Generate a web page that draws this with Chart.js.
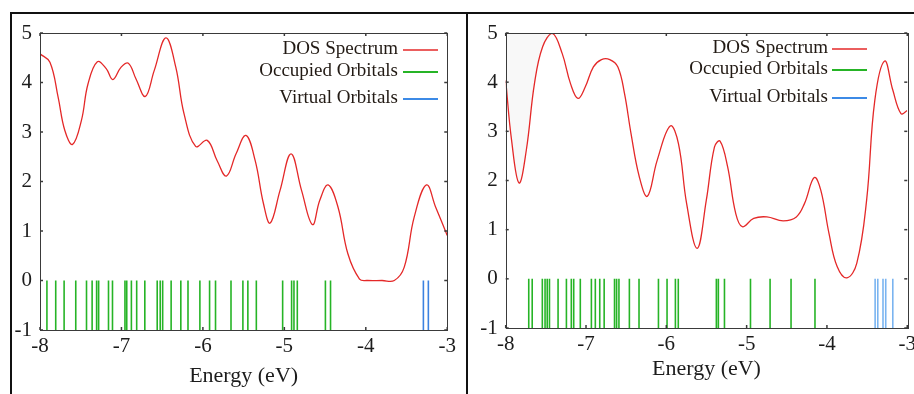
<!DOCTYPE html>
<html>
<head>
<meta charset="utf-8">
<script src="https://cdn.jsdelivr.net/npm/chart.js@4/dist/chart.umd.min.js"></script>
<style>
  html, body { margin:0; padding:0; background:#fff; width:914px; height:394px; overflow:hidden; }
  .panel { position:absolute; top:0; height:394px; }
  .line { position:absolute; background:#111; z-index:5; }
</style>
</head>
<body>
<div class="panel" style="left:0;width:460px;"><canvas id="c1" width="460" height="394"></canvas></div>
<div class="panel" style="left:460px;width:460px;"><canvas id="c2" width="460" height="394"></canvas></div>
<div class="line" style="left:10px;top:12px;width:904px;height:2px;"></div>
<div class="line" style="left:10px;top:12px;width:2px;height:382px;"></div>
<div class="line" style="left:466px;top:12px;width:2px;height:382px;"></div>
<script>
// ---------- DATA ----------
const legendLabels = ['DOS Spectrum', 'Occupied Orbitals', 'Virtual Orbitals'];
const xTickValues = [-8, -7, -6, -5, -4, -3];
const yTickValues = [-1, 0, 1, 2, 3, 4, 5];
const xTitle = 'Energy (eV)';

// Left panel DOS spectrum (energy, intensity)
const leftEnergy = [-8.0,-7.878,-7.777,-7.695,-7.60,-7.492,-7.411,-7.296,-7.187,-7.106,-7.004,-6.915,-6.821,-6.707,-6.598,-6.455,-6.333,-6.232,-6.089,-5.947,-5.825,-5.711,-5.593,-5.472,-5.358,-5.256,-5.174,-5.053,-4.918,-4.789,-4.655,-4.565,-4.463,-4.341,-4.220,-4.077,-3.98,-3.80,-3.65,-3.528,-3.406,-3.256,-3.142,-3.0];
const leftDOS    = [4.58,4.41,3.70,3.03,2.75,3.23,3.97,4.42,4.28,4.06,4.31,4.39,4.07,3.72,4.24,4.90,4.31,3.37,2.71,2.83,2.42,2.11,2.56,2.93,2.42,1.55,1.16,1.82,2.56,1.82,1.13,1.62,1.93,1.48,0.54,0.03,0.0,0.0,0.0,0.27,1.28,1.93,1.48,0.91];
const leftOccupied = [-7.915,-7.807,-7.704,-7.561,-7.429,-7.360,-7.305,-7.280,-7.159,-7.110,-6.957,-6.935,-6.878,-6.813,-6.713,-6.561,-6.524,-6.494,-6.390,-6.271,-6.183,-6.037,-5.918,-5.845,-5.655,-5.509,-5.448,-5.344,-5.021,-4.911,-4.882,-4.841,-4.496,-4.433];
const leftVirtual = [-3.293,-3.232];

// Right panel DOS spectrum
const rightEnergy = [-8.0,-7.927,-7.834,-7.743,-7.642,-7.540,-7.418,-7.296,-7.193,-7.100,-7.010,-6.908,-6.807,-6.704,-6.603,-6.521,-6.440,-6.337,-6.236,-6.114,-5.951,-5.849,-5.747,-5.616,-5.502,-5.401,-5.331,-5.237,-5.136,-5.054,-4.912,-4.748,-4.545,-4.381,-4.280,-4.158,-4.076,-3.974,-3.873,-3.751,-3.628,-3.506,-3.404,-3.281,-3.180,-3.078,-3.0];
const rightDOS    = [4.04,2.82,1.95,2.62,3.97,4.72,4.99,4.58,3.97,3.67,3.90,4.31,4.46,4.46,4.31,3.77,2.96,2.08,1.68,2.41,3.11,2.75,1.53,0.62,1.60,2.68,2.80,2.28,1.33,1.06,1.23,1.26,1.18,1.26,1.53,2.06,1.80,0.92,0.25,0.02,0.32,1.60,3.63,4.43,3.84,3.36,3.42];
const rightOccupied = [-7.713,-7.670,-7.544,-7.510,-7.483,-7.455,-7.348,-7.244,-7.183,-7.153,-7.071,-6.933,-6.884,-6.829,-6.774,-6.645,-6.619,-6.590,-6.460,-6.340,-6.098,-5.991,-5.887,-5.851,-5.377,-5.352,-5.276,-4.952,-4.708,-4.447,-4.149];
const rightVirtual = [-3.400,-3.367,-3.302,-3.268,-3.180];
const rightShadeEnd = -7.418;

// ---------- HELPERS ----------
const FONT = '"Liberation Serif", "DejaVu Serif", serif';
const RED = '#e42828', GREEN = '#26b426', BLUE = '#3c8ae6';

function curve(es, vs) { return es.map((e, i) => ({ x: e, y: vs[i] })); }
function sticks(es) {
  const d = [];
  es.forEach(e => { d.push({ x: e, y: 0 }, { x: e, y: -1 }, { x: e, y: null }); });
  return d;
}

const framePlugin = {
  id: 'frame',
  afterDatasetsDraw(chart) {
    const { ctx, chartArea: a, scales } = chart;
    ctx.save();
    ctx.strokeStyle = '#3a3a3a';
    ctx.lineWidth = 1;
    ctx.strokeRect(Math.round(a.left) + 0.5, Math.round(a.top) + 0.5, Math.round(a.right - a.left), Math.round(a.bottom - a.top));
    ctx.lineWidth = 1.5;
    xTickValues.forEach(v => {
      const px = scales.x.getPixelForValue(v);
      ctx.beginPath(); ctx.moveTo(px, a.bottom); ctx.lineTo(px, a.bottom - 3); ctx.stroke();
      ctx.beginPath(); ctx.moveTo(px, a.top); ctx.lineTo(px, a.top + 3); ctx.stroke();
    });
    yTickValues.forEach(v => {
      const py = scales.y.getPixelForValue(v);
      ctx.beginPath(); ctx.moveTo(a.left, py); ctx.lineTo(a.left + 3, py); ctx.stroke();
      ctx.beginPath(); ctx.moveTo(a.right, py); ctx.lineTo(a.right - 3, py); ctx.stroke();
    });
    ctx.restore();
  }
};

const legendPlugin = {
  id: 'dosLegend',
  afterDraw(chart, args, o) {
    const ctx = chart.ctx;
    const colors = [RED, GREEN, BLUE];
    ctx.save();
    ctx.font = '19px ' + FONT;
    ctx.textAlign = 'right';
    ctx.textBaseline = 'middle';
    legendLabels.forEach((t, i) => {
      ctx.fillStyle = '#221a14';
      ctx.fillText(t, o.textRight, o.rows[i]);
      ctx.strokeStyle = colors[i];
      ctx.lineWidth = i === 0 ? 1.5 : 2;
      ctx.beginPath(); ctx.moveTo(o.x1, o.rows[i] + 1); ctx.lineTo(o.x2, o.rows[i] + 1); ctx.stroke();
    });
    ctx.restore();
  }
};

function makeChart(id, es, vs, occ, virt, geo, shadeEnd) {
  const datasets = [];
  if (shadeEnd !== undefined) {
    const idx = es.filter(e => e <= shadeEnd).length;
    datasets.push({
      data: curve(es.slice(0, idx), vs.slice(0, idx)),
      showLine: true, borderWidth: 0, pointRadius: 0, tension: 0.4,
      fill: 'end', backgroundColor: 'rgba(242,242,242,0.55)', borderColor: 'rgba(0,0,0,0)', order: 5
    });
  }
  datasets.push(
    { label: legendLabels[1], data: sticks(occ), showLine: true, pointRadius: 0, borderColor: GREEN, borderWidth: 1.6, spanGaps: false, order: 3 },
    { label: legendLabels[2], data: sticks(virt), showLine: true, pointRadius: 0, borderColor: geo.blue, borderWidth: 1.6, spanGaps: false, order: 2 },
    { label: legendLabels[0], data: curve(es, vs), showLine: true, pointRadius: 0, borderColor: RED, borderWidth: 1.3, tension: 0.4, order: 1 }
  );
  return new Chart(document.getElementById(id), {
    type: 'scatter',
    data: { datasets },
    plugins: [framePlugin, legendPlugin],
    options: {
      responsive: false, animation: false, devicePixelRatio: 1,
      layout: { padding: { top: geo.top, right: geo.right, bottom: 0, left: 0 } },
      plugins: {
        legend: { display: false }, tooltip: { enabled: false },
        dosLegend: geo.legend
      },
      scales: {
        x: {
          type: 'linear', min: -8, max: -3,
          afterBuildTicks: s => { s.ticks = xTickValues.map(v => ({ value: v })); },
          afterFit: s => { s.height = geo.xh; },
          grid: { display: false, drawTicks: false },
          border: { display: false },
          ticks: { color: '#1c1c1c', font: { family: FONT, size: 21 }, padding: 4, maxRotation: 0, autoSkip: false },
          title: { display: true, text: xTitle, color: '#1c1c1c', font: { family: FONT, size: 22 }, padding: { top: 0, bottom: geo.tb } }
        },
        y: {
          type: 'linear', min: -1, max: 5,
          afterBuildTicks: s => { s.ticks = yTickValues.map(v => ({ value: v })); },
          afterFit: s => { s.width = geo.yw; },
          grid: { display: false, drawTicks: false },
          border: { display: false },
          ticks: { color: '#1c1c1c', font: { family: FONT, size: 21 }, padding: 8 }
        }
      }
    }
  });
}

makeChart('c1', leftEnergy, leftDOS, leftOccupied, leftVirtual,
  { top: 33, right: 10, xh: 64, yw: 40, tb: 5, blue: '#3b82e0',
    legend: { textRight: 398, x1: 403, x2: 438, rows: [49, 71, 98] } });
makeChart('c2', rightEnergy, rightDOS, rightOccupied, rightVirtual,
  { top: 33, right: 4.5, xh: 66, yw: 45.7, tb: 12, blue: '#7ab4f0',
    legend: { textRight: 368, x1: 372, x2: 407, rows: [48, 69, 97] } }, rightShadeEnd);
</script>
</body>
</html>
